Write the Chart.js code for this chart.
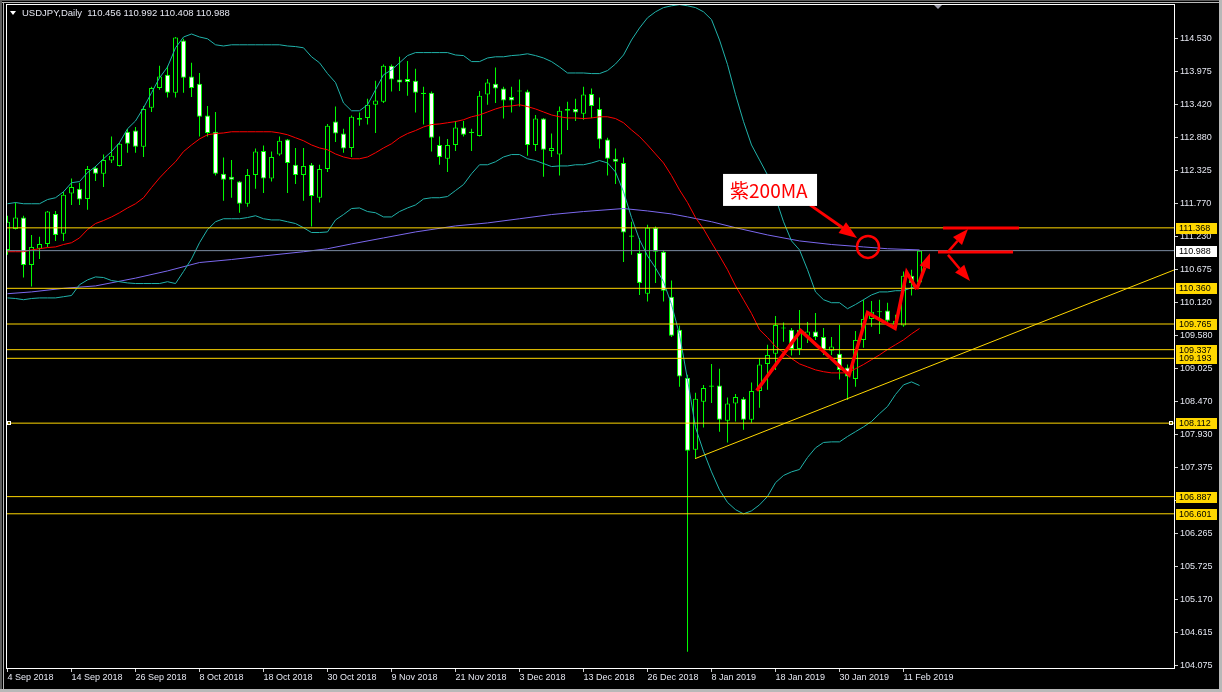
<!DOCTYPE html>
<html lang="en">
<head>
<meta charset="UTF-8">
<title>USDJPY, Daily</title>
<style>
  html, body { margin: 0; padding: 0; background: #000; overflow: hidden; }
  #wrap { width: 1222px; height: 692px; }
</style>
<script src="https://cdn.jsdelivr.net/npm/chart.js"></script>
</head>
<body>
<div id="wrap"><canvas id="chart" width="1222" height="692"></canvas></div>
<script>
// ---- values (bar index 0 = 4 Sep 2018) ----
const dateIdx = [0, 8, 16, 24, 32, 40, 48, 56, 64, 72, 80, 88, 96, 104, 112];
const dateLabels = ['4 Sep 2018', '14 Sep 2018', '26 Sep 2018', '8 Oct 2018', '18 Oct 2018',
  '30 Oct 2018', '9 Nov 2018', '21 Nov 2018', '3 Dec 2018', '13 Dec 2018', '26 Dec 2018',
  '8 Jan 2019', '18 Jan 2019', '30 Jan 2019', '11 Feb 2019'];

const opens = [
  111.00, 111.35, 111.54, 110.75, 111.02, 111.10, 111.60, 111.27, 111.94, 112.02,
  111.85, 112.37, 112.27, 112.49, 112.40, 112.97, 112.99, 112.72, 113.37, 113.70,
  113.92, 113.62, 114.49, 113.89, 113.77, 113.24, 112.97, 112.27, 112.22, 112.14,
  111.77, 112.25, 112.65, 112.19, 112.59, 112.84, 112.42, 112.25, 112.42, 111.87,
  112.35, 113.14, 112.94, 112.70, 113.17, 113.20, 113.42, 113.47, 114.07, 113.84,
  113.85, 113.82, 113.60, 113.62, 112.75, 112.52, 112.75, 113.04, 112.95, 112.90,
  113.59, 113.77, 113.69, 113.55, 113.64, 113.64, 112.75, 113.19, 112.65, 112.59,
  113.32, 113.35, 113.27, 113.60, 113.35, 112.84, 112.52, 112.45, 111.22, 110.95,
  110.27, 111.37, 110.97, 110.22, 109.67, 108.87, 107.67, 108.47, 108.72, 108.74,
  108.15, 108.44, 108.52, 108.17, 108.65, 109.10, 109.27, 109.69, 109.67, 109.35,
  109.57, 109.64, 109.55, 109.32, 109.27, 109.04, 108.85, 109.50, 109.85, 109.96,
  109.99, 109.77, 109.74, 110.57, 110.456];
const highs = [
  111.57, 111.79, 111.57, 111.25, 111.22, 111.65, 111.65, 111.97, 112.19, 112.12,
  112.40, 112.40, 112.59, 112.89, 112.79, 113.02, 113.05, 113.40, 113.72, 114.07,
  114.07, 114.55, 114.52, 114.12, 113.95, 113.40, 113.30, 112.54, 112.50, 112.15,
  112.35, 112.69, 112.74, 112.64, 112.89, 112.85, 112.70, 112.70, 112.45, 112.42,
  113.10, 113.39, 113.02, 113.24, 113.29, 113.52, 113.82, 114.09, 114.09, 114.22,
  114.15, 114.02, 113.72, 113.64, 112.89, 112.85, 113.15, 113.15, 113.02, 113.65,
  113.85, 114.04, 113.72, 113.72, 113.84, 113.67, 113.25, 113.20, 112.94, 113.39,
  113.47, 113.52, 113.72, 113.69, 113.54, 112.87, 112.69, 112.54, 111.47, 111.20,
  111.42, 111.39, 110.99, 110.49, 109.74, 108.92, 108.62, 108.75, 109.10, 109.02,
  108.54, 108.60, 108.55, 108.79, 109.19, 109.42, 109.90, 109.79, 109.70, 110.00,
  109.80, 109.95, 109.70, 109.55, 109.75, 109.09, 109.65, 110.17, 110.15, 110.17,
  110.12, 109.92, 110.64, 110.67, 110.992];
const lows = [
  110.92, 111.34, 110.54, 110.39, 110.85, 111.05, 111.15, 111.15, 111.75, 111.75,
  111.67, 112.15, 112.05, 112.45, 112.39, 112.62, 112.62, 112.55, 113.30, 113.67,
  113.54, 113.54, 113.62, 113.55, 112.89, 112.89, 112.24, 111.82, 111.87, 111.62,
  111.72, 112.02, 111.95, 112.14, 112.57, 111.95, 112.10, 111.82, 111.39, 111.79,
  112.30, 112.80, 112.62, 112.55, 113.07, 113.09, 112.95, 113.45, 113.64, 113.65,
  113.57, 113.29, 113.09, 112.64, 112.42, 112.30, 112.65, 112.89, 112.65, 112.89,
  113.42, 113.45, 113.19, 113.29, 113.39, 112.57, 112.65, 112.22, 112.55, 112.24,
  113.00, 113.15, 113.17, 113.20, 112.69, 112.24, 112.10, 110.80, 110.92, 110.25,
  110.14, 110.45, 110.14, 109.55, 108.72, 104.30, 107.52, 108.04, 108.45, 107.97,
  107.79, 108.14, 108.00, 108.12, 108.37, 108.67, 109.00, 109.47, 109.24, 109.25,
  109.45, 109.50, 109.25, 109.25, 108.84, 108.50, 108.72, 109.37, 109.72, 109.60,
  109.80, 109.72, 109.72, 110.24, 110.408];
const closes = [
  111.47, 111.54, 110.75, 111.05, 111.10, 111.64, 111.25, 111.92, 112.05, 111.84,
  112.35, 112.27, 112.50, 112.57, 112.77, 112.77, 112.72, 113.35, 113.70, 113.89,
  113.62, 114.54, 113.87, 113.70, 113.22, 112.95, 112.27, 112.17, 112.17, 111.77,
  112.25, 112.64, 112.19, 112.55, 112.82, 112.45, 112.25, 112.40, 111.90, 112.35,
  113.07, 112.94, 112.69, 113.22, 113.20, 113.42, 113.49, 114.07, 113.84, 113.79,
  113.80, 113.62, 113.62, 112.87, 112.55, 112.75, 113.04, 112.92, 112.97, 113.57,
  113.79, 113.69, 113.49, 113.49, 113.65, 112.75, 113.19, 112.67, 112.70, 113.32,
  113.35, 113.29, 113.59, 113.40, 112.84, 112.52, 112.47, 111.29, 111.24, 110.45,
  111.37, 110.97, 110.32, 109.57, 108.89, 107.65, 108.52, 108.70, 108.74, 108.17,
  108.44, 108.55, 108.17, 108.65, 109.09, 109.25, 109.75, 109.70, 109.35, 109.67,
  109.64, 109.55, 109.34, 109.39, 109.00, 108.89, 109.50, 109.85, 109.97, 109.97,
  109.82, 109.82, 110.57, 110.45, 110.988];

// Bollinger bands (20) as drawn
const bbUpper = [
  111.77, 111.79, 111.77, 111.77, 111.77, 111.84, 111.87, 111.97, 112.12, 112.14,
  112.29, 112.39, 112.52, 112.64, 112.79, 113.02, 113.15, 113.37, 113.62, 113.87,
  114.05, 114.37, 114.55, 114.60, 114.55, 114.52, 114.42, 114.40, 114.42, 114.42,
  114.42, 114.42, 114.42, 114.42, 114.42, 114.40, 114.39, 114.37, 114.22, 114.12,
  113.94, 113.79, 113.45, 113.32, 113.32, 113.42, 113.67, 113.92, 114.00, 114.12,
  114.24, 114.29, 114.29, 114.29, 114.29, 114.29, 114.25, 114.24, 114.14, 114.14,
  114.20, 114.22, 114.22, 114.24, 114.25, 114.27, 114.24, 114.20, 114.14, 114.05,
  113.95, 113.95, 113.95, 113.94, 113.94, 113.99, 114.10, 114.25, 114.50, 114.70,
  114.87, 114.97, 115.04, 115.07, 115.09, 115.07, 115.04, 114.97, 114.84, 114.50,
  114.09, 113.59, 113.14, 112.75, 112.50, 112.25, 111.87, 111.47, 111.15, 111.00,
  110.67, 110.30, 110.17, 110.12, 110.12, 110.02, 110.09, 110.17, 110.25, 110.30,
  110.30, 110.32, 110.32, 110.37, 110.42];
const bbMid = [
  110.97, 110.97, 110.97, 111.00, 111.02, 111.04, 111.05, 111.09, 111.12, 111.20,
  111.34, 111.44, 111.49, 111.55, 111.62, 111.70, 111.77, 111.87, 112.04, 112.20,
  112.34, 112.47, 112.64, 112.75, 112.85, 112.92, 112.94, 112.95, 112.97, 112.97,
  112.97, 112.97, 112.97, 112.97, 112.95, 112.92, 112.87, 112.82, 112.75, 112.70,
  112.67, 112.60, 112.55, 112.52, 112.52, 112.55, 112.62, 112.70, 112.77, 112.87,
  112.94, 112.99, 113.05, 113.09, 113.10, 113.12, 113.14, 113.17, 113.22, 113.25,
  113.30, 113.35, 113.39, 113.40, 113.42, 113.39, 113.35, 113.30, 113.25, 113.22,
  113.20, 113.20, 113.19, 113.20, 113.22, 113.22, 113.19, 113.12, 113.00, 112.89,
  112.75, 112.60, 112.45, 112.24, 112.00, 111.79, 111.54, 111.35, 111.12, 110.90,
  110.67, 110.40, 110.17, 109.94, 109.67, 109.54, 109.39, 109.29, 109.19, 109.10,
  109.05, 109.00, 108.97, 108.95, 108.95, 108.95, 109.02, 109.09, 109.17, 109.25,
  109.34, 109.42, 109.50, 109.60, 109.69];
const bbLower = [
  110.20, 110.19, 110.17, 110.19, 110.20, 110.20, 110.20, 110.22, 110.24, 110.42,
  110.50, 110.55, 110.54, 110.49, 110.47, 110.45, 110.44, 110.44, 110.44, 110.44,
  110.47, 110.44, 110.64, 110.85, 111.12, 111.34, 111.47, 111.52, 111.52, 111.52,
  111.54, 111.57, 111.52, 111.50, 111.50, 111.47, 111.44, 111.37, 111.29, 111.29,
  111.30, 111.50, 111.59, 111.69, 111.70, 111.64, 111.62, 111.55, 111.55, 111.64,
  111.70, 111.75, 111.85, 111.87, 111.87, 111.89, 111.99, 112.09, 112.27, 112.42,
  112.42, 112.47, 112.55, 112.59, 112.59, 112.52, 112.49, 112.44, 112.39, 112.40,
  112.40, 112.42, 112.42, 112.45, 112.49, 112.45, 112.30, 111.97, 111.54, 111.17,
  110.90, 110.70, 110.47, 110.09, 109.59, 108.84, 108.04, 107.64, 107.30, 107.00,
  106.79, 106.67, 106.60, 106.65, 106.75, 106.89, 107.12, 107.24, 107.30, 107.34,
  107.54, 107.70, 107.79, 107.80, 107.80, 107.89, 107.97, 108.05, 108.14, 108.27,
  108.39, 108.59, 108.75, 108.80, 108.74];

// purple 200 MA, read at these bars
const maIdx = [0, 3, 7, 11, 16, 20, 24, 28, 32, 37, 40, 43, 47, 51, 56, 60,
  64, 68, 72, 77, 80, 83, 85, 88, 91, 95, 99, 103, 107, 110, 114];
const maVal = [110.27, 110.30, 110.36, 110.40, 110.53, 110.65, 110.79, 110.84, 110.90, 110.97,
  111.02, 111.10, 111.20, 111.30, 111.40, 111.45, 111.52, 111.59, 111.64, 111.69, 111.65,
  111.60, 111.55, 111.47, 111.37, 111.25, 111.15, 111.09, 111.05, 111.02, 111.00];

// horizontal levels and the rising support line
const levels = [111.368, 110.360, 109.765, 109.337, 109.193, 108.112, 106.887, 106.601];
const trendIdx = [85.94, 145.81];
const trendVal = [107.52, 110.665];

// price axis labels
const yTicks = [114.530, 113.975, 113.420, 112.880, 112.325, 111.770, 111.230, 110.675, 110.120,
  109.580, 109.025, 108.470, 107.930, 107.375, 106.820, 106.265, 105.725, 105.170, 104.615, 104.075];

// hand-drawn red notes, in bar / price units
const zigIdx = [93.65, 99.15, 105.2, 107.5, 110.94, 112.4, 113.65, 115.31];
const zigVal = [108.654, 109.655, 108.916, 109.955, 109.695, 110.628, 110.345, 110.945];
const noteText = '紫200MA';
const noteBox = [89.44, 112.267];
const noteArrow = [[100.31, 111.751], [106.19, 111.20]];
const noteCircle = [107.56, 111.05];
const markBars = [[116.94, 126.44, 111.367], [116.31, 125.69, 110.967]];
const markArrows = [[[117.56, 110.967], [120.06, 111.35]], [[117.56, 110.917], [120.31, 110.483]]];

const xMin = -0.19, xMax = 145.81;
const yMin = 104.03, yMax = 115.10;

const FONT = '"Liberation Sans", Arial, sans-serif';
const GREEN = '#00ff00';
const GOLD = '#ffd700';
const AXIS_TEXT = '#e4e6f0';
const lastClose = closes[closes.length - 1];
const idx = opens.map((_, i) => i);

function arrow(ctx, x1, y1, x2, y2, lw, hl, hw) {
    const a = Math.atan2(y2 - y1, x2 - x1);
    const bx = x2 - Math.cos(a) * hl, by = y2 - Math.sin(a) * hl;
    ctx.lineWidth = lw;
    ctx.beginPath(); ctx.moveTo(x1, y1); ctx.lineTo(bx, by); ctx.stroke();
    ctx.beginPath();
    ctx.moveTo(x2, y2);
    ctx.lineTo(bx + Math.sin(a) * hw / 2, by - Math.cos(a) * hw / 2);
    ctx.lineTo(bx - Math.sin(a) * hw / 2, by + Math.cos(a) * hw / 2);
    ctx.closePath(); ctx.fill();
}

// frame, price boxes, header and the red notes
const deco = {
    id: 'deco',
    afterDraw(chart) {
        const {ctx, chartArea: a, scales: {x, y}} = chart;
        const px = v => x.getPixelForValue(v), py = v => y.getPixelForValue(v);
        ctx.save();

        // plot frame
        ctx.strokeStyle = '#ffffff'; ctx.lineWidth = 1;
        ctx.strokeRect(a.left + 0.5, a.top + 0.5, a.right - a.left, a.bottom - a.top);

        // window frame
        ctx.fillStyle = '#5c5c5c';
        ctx.fillRect(0, 0, 1222, 1); ctx.fillRect(0, 0, 2, 692);
        ctx.fillStyle = '#b8b8b8';
        ctx.fillRect(2, 2, 1218, 1); ctx.fillRect(3, 2, 1, 688);
        ctx.fillRect(0, 689, 1222, 3); ctx.fillRect(1219, 0, 3, 692);

        // small markers on the 108.112 line
        const ym = Math.round(py(108.112));
        ctx.strokeStyle = '#ffffff';
        ctx.strokeRect(a.left + 1.5, ym - 1.5, 3, 3);
        ctx.strokeRect(a.right - 4.5, ym - 1.5, 3, 3);

        // level boxes on the price axis
        ctx.font = '9px ' + FONT;
        ctx.textBaseline = 'middle';
        const box = (v, fill) => {
            const yy = Math.round(py(v));
            ctx.fillStyle = fill;
            ctx.fillRect(a.right + 2, yy - 5, 41, 11);
            ctx.fillStyle = '#000';
            ctx.fillText(v.toFixed(3), a.right + 5, yy + 1);
        };
        levels.forEach(v => box(v, GOLD));
        box(lastClose, '#ffffff');

        // header
        ctx.fillStyle = '#ffffff';
        ctx.beginPath(); ctx.moveTo(10, 11); ctx.lineTo(16, 11); ctx.lineTo(13, 15); ctx.closePath(); ctx.fill();
        ctx.fillStyle = AXIS_TEXT;
        ctx.font = '9.5px ' + FONT;
        ctx.textBaseline = 'alphabetic';
        ctx.fillText('USDJPY,Daily  ' + [opens, highs, lows, closes].map(s => s[s.length - 1].toFixed(3)).join(' '), 22, 16);

        // chart shift marker
        const sx = Math.round(px(116.3));
        ctx.fillStyle = '#9a9aa8';
        ctx.beginPath(); ctx.moveTo(sx - 4, 5); ctx.lineTo(sx + 4, 5); ctx.lineTo(sx, 9); ctx.closePath(); ctx.fill();

        // red notes
        ctx.strokeStyle = '#ff0000'; ctx.fillStyle = '#ff0000';
        ctx.lineJoin = 'miter'; ctx.lineCap = 'butt';
        const n = zigIdx.length;
        ctx.lineWidth = 3.5;
        ctx.beginPath();
        for (let i = 0; i < n - 1; i++) {
            const X = px(zigIdx[i]), Y = py(zigVal[i]);
            if (i === 0) ctx.moveTo(X, Y); else ctx.lineTo(X, Y);
        }
        ctx.stroke();
        arrow(ctx, px(zigIdx[n - 2]), py(zigVal[n - 2]), px(zigIdx[n - 1]), py(zigVal[n - 1]), 3.5, 15, 11);

        ctx.lineWidth = 2.5;
        ctx.beginPath(); ctx.arc(px(noteCircle[0]), py(noteCircle[1]), 11, 0, Math.PI * 2); ctx.stroke();

        arrow(ctx, px(noteArrow[0][0]), py(noteArrow[0][1]), px(noteArrow[1][0]), py(noteArrow[1][1]), 3, 18, 13);

        ctx.lineWidth = 3;
        markBars.forEach(([i0, i1, v]) => {
            const yy = py(v);
            ctx.beginPath(); ctx.moveTo(px(i0), yy); ctx.lineTo(px(i1), yy); ctx.stroke();
        });
        markArrows.forEach(([p0, p1]) => arrow(ctx, px(p0[0]), py(p0[1]), px(p1[0]), py(p1[1]), 2.5, 16, 12));

        // note label
        const bx = px(noteBox[0]), by = py(noteBox[1]);
        ctx.fillStyle = '#ffffff';
        ctx.fillRect(bx, by, 94, 32);
        ctx.fillStyle = '#ff0000';
        ctx.font = '19px "Noto Sans CJK JP", ' + FONT;
        ctx.textBaseline = 'alphabetic';
        ctx.fillText(noteText, bx + 7, by + 24);

        ctx.restore();
    }
};

const lineDs = (data, color, order) => ({
    type: 'line', data, borderColor: color, borderWidth: 1,
    pointRadius: 0, tension: 0, fill: false, order
});

const datasets = [
    // candle wicks
    {
        data: idx.map(i => ({x: i, y: [lows[i], highs[i]]})),
        backgroundColor: GREEN, borderWidth: 0, barThickness: 1,
        grouped: false, inflateAmount: 0, order: 6
    },
    // candle bodies: hollow when up, white when down
    {
        data: idx.map(i => ({x: i, y: [opens[i], closes[i]]})),
        backgroundColor: c => closes[c.dataIndex] >= opens[c.dataIndex] ? '#000000' : '#ffffff',
        borderColor: GREEN, borderWidth: 1, borderSkipped: false, barThickness: 5,
        minBarLength: 1, grouped: false, inflateAmount: 0, order: 5
    },
    lineDs(idx.map(i => ({x: i, y: bbUpper[i]})), '#20b2aa', 3),
    lineDs(idx.map(i => ({x: i, y: bbLower[i]})), '#20b2aa', 3),
    lineDs(idx.map(i => ({x: i, y: bbMid[i]})), '#ff0000', 3),
    lineDs(maIdx.map((v, k) => ({x: v, y: maVal[k]})), '#7b68ee', 3),
    lineDs([{x: xMin, y: lastClose}, {x: xMax, y: lastClose}], '#7a8aa0', 2),
    ...levels.map(v => lineDs([{x: xMin, y: v}, {x: xMax, y: v}], GOLD, 1)),
    lineDs(trendIdx.map((v, k) => ({x: v, y: trendVal[k]})), GOLD, 1)
];

new Chart(document.getElementById('chart'), {
    type: 'bar',
    data: {datasets},
    options: {
        responsive: false,
        animation: false,
        events: [],
        layout: {padding: {left: 6, top: 4, right: 2, bottom: 2}},
        plugins: {legend: {display: false}, tooltip: {enabled: false}},
        scales: {
            x: {
                type: 'linear', min: xMin, max: xMax, offset: false,
                grid: {offset: false, drawOnChartArea: false, drawTicks: true, tickLength: 4, color: '#d0d0d0'},
                border: {display: false},
                afterBuildTicks: s => { s.ticks = dateIdx.map(v => ({value: v})); },
                afterFit: s => { s.height = 22; s.paddingLeft = 0; s.paddingRight = 0; },
                ticks: {
                    autoSkip: false, maxRotation: 0, minRotation: 0, align: 'start', padding: 0,
                    color: AXIS_TEXT, font: {family: FONT, size: 9},
                    callback: (v, i) => dateLabels[i]
                }
            },
            y: {
                position: 'right', min: yMin, max: yMax,
                grid: {drawOnChartArea: false, drawTicks: true, tickLength: 4, color: '#d0d0d0'},
                border: {display: false},
                afterBuildTicks: s => { s.ticks = yTicks.map(v => ({value: v})); },
                afterFit: s => { s.width = 46; s.paddingTop = 0; s.paddingBottom = 0; },
                ticks: {
                    autoSkip: false, padding: 2,
                    color: AXIS_TEXT, font: {family: FONT, size: 9},
                    callback: v => v.toFixed(3)
                }
            }
        }
    },
    plugins: [deco]
});
</script>
</body>
</html>
